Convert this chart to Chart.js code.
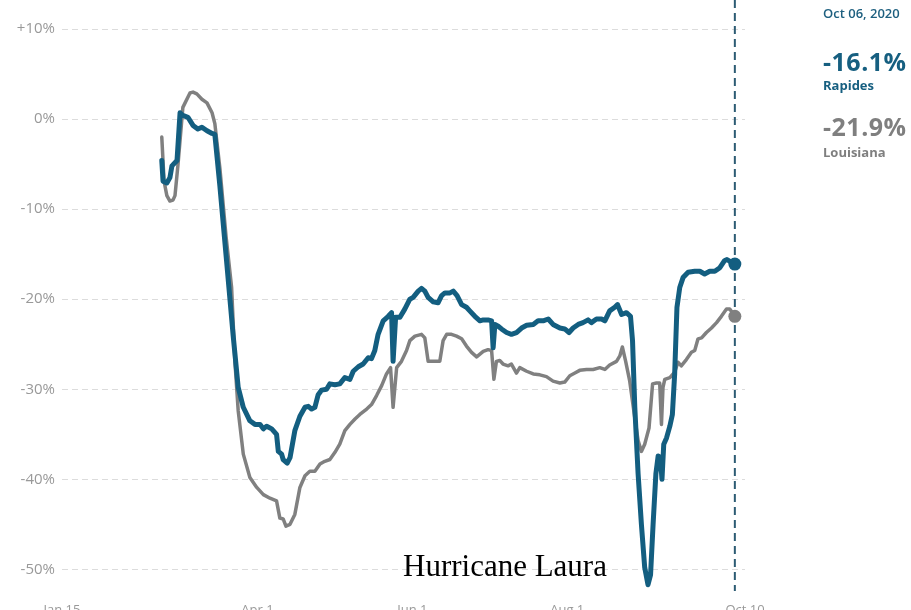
<!DOCTYPE html>
<html>
<head>
<meta charset="utf-8">
<script src="https://cdn.jsdelivr.net/npm/chart.js@4/dist/chart.umd.min.js"></script>
<style>
  html, body { margin: 0; padding: 0; background: #fff; overflow: hidden; }
  #wrap { position: relative; width: 911px; height: 630px; }
  #chart { position: absolute; left: 0; top: 0; }
  .side { position: absolute; left: 823px; font-family: "Open Sans", sans-serif; font-weight: 700; white-space: nowrap; }
  .date { top: 4px; font-size: 13px; font-weight: 600; color: #1d5f7f; }
  .big { font-size: 25px; letter-spacing: 0.5px; }
  .small { font-size: 13px; }
  .blue { color: #165f80; }
  .grey { color: #7f7f7f; }
  #laura { position: absolute; left: 403px; top: 548px; font-family: "Liberation Serif", "Times New Roman", serif; font-size: 31px; color: #000; white-space: nowrap; }
</style>
</head>
<body>
<div id="wrap">
  <canvas id="chart" width="911" height="630"></canvas>
  <div class="side date">Oct 06, 2020</div>
  <div class="side big blue" style="top:44px">-16.1%</div>
  <div class="side small blue" style="top:76px">Rapides</div>
  <div class="side big grey" style="top:109px">-21.9%</div>
  <div class="side small grey" style="top:143px">Louisiana</div>
  <div id="laura">Hurricane Laura</div>
</div>
<script>
// days counted from Jan 15, 2020
const tickDays = [0, 77, 138, 199, 269];
const tickLabels = ["Jan 15", "Apr 1", "Jun 1", "Aug 1", "Oct 10"];
const yTicks = [-50, -40, -30, -20, -10, 0, 10];
const markerDay = 265; // Oct 06

// Rapides (change from baseline, %)
const rapidesDays = [39.3, 39.8, 41.3, 42.5, 43.3, 45.3, 46.5, 47.6, 49.6, 51.6, 53.5, 55.1, 57.1, 59.1, 60.2,
  62.2, 64.8, 67.4, 69.4, 71.4, 74.0, 76.0, 78.0, 79.3, 80.6, 82.6, 84.5, 85.2, 86.5, 87.1, 88.7, 89.8,
  91.7, 93.7, 95.7, 97.0, 98.3, 99.6, 100.9, 102.2, 104.2, 105.5, 107.5, 109.4, 111.4, 113.4, 114.7,
  116.7, 118.6, 120.6, 121.9, 123.2, 124.5, 126.5, 128.5, 129.8, 130.4, 131.4, 133.1, 135.0, 137.0,
  138.3, 140.3, 141.6, 142.9, 144.2, 146.2, 148.1, 149.5, 150.8, 152.8, 154.1, 155.6, 157.4, 159.3,
  160.6, 162.6, 164.6, 165.9, 167.8, 169.2, 169.8, 170.5, 171.8, 173.1, 175.1, 177.0, 179.0, 181.0,
  183.0, 185.6, 187.5, 189.5, 191.5, 193.4, 196.1, 198.0, 199.7, 201.3, 203.3, 205.2, 207.2, 208.5,
  210.5, 212.5, 213.8, 215.7, 217.7, 218.8, 220.4, 222.3, 223.9, 224.7, 225.6, 226.9, 228.2, 229.5,
  230.8, 231.8, 232.8, 233.9, 234.8, 235.7, 236.3, 237.0, 238.1, 239.4, 240.4, 241.3, 242.2, 243.3,
  244.6, 246.6, 249.2, 251.2, 253.1, 255.1, 257.1, 259.1, 261.0, 261.9, 265];
const rapidesVals = [-4.6, -6.9, -7.1, -6.5, -5.2, -4.6, 0.7, 0.4, 0.2, -0.7, -1.1, -0.9, -1.3, -1.6, -1.7,
  -7.5, -15.7, -24, -29.8, -32, -33.5, -33.9, -33.9, -34.4, -34.1, -34.4, -35, -36.9, -37.2, -37.8, -38.2, -37.6,
  -34.6, -33, -32, -31.9, -32.2, -32, -30.6, -30.1, -30, -29.4, -29.5, -29.4, -28.7, -28.9, -28,
  -27.5, -27.2, -26.5, -26.6, -25.7, -23.9, -22.4, -21.9, -21.5, -26.9, -22.0, -22, -21.1, -20,
  -19.8, -19.1, -18.8, -19.1, -19.8, -20.3, -20.4, -19.6, -19.3, -19.3, -19.1, -19.6, -20.6, -20.9,
  -21.3, -21.9, -22.4, -22.3, -22.3, -22.4, -25.4, -22.8, -23.0, -23.3, -23.7, -23.9, -23.7, -23.2,
  -22.9, -22.8, -22.4, -22.4, -22.2, -22.8, -23.2, -23.3, -23.7, -23.2, -22.8, -22.6, -22.3, -22.6,
  -22.2, -22.2, -22.4, -21.3, -20.9, -20.6, -21.7, -21.5, -21.9, -24.6, -32, -39.4, -45, -49.8,
  -51.7, -50.6, -45, -39.4, -37.4, -37.6, -40, -36.1, -35.4, -34.1, -32.8, -28.3, -20.9, -18.7,
  -17.6, -17.0, -16.9, -16.9, -17.2, -16.9, -16.9, -16.5, -15.7, -15.6, -16.1];

// Louisiana (change from baseline, %)
const louisianaDays = [39.3, 40.2, 41.3, 42.5, 43.7, 44.5, 45.7, 47.6, 50.4, 51.6, 53.1, 55.1, 57.1, 59.1, 60.2,
  62.2, 64.6, 66.8, 68.1, 69.4, 71.4, 74.0, 76.7, 79.3, 81.9, 84.5, 85.8, 87.1, 88.2, 89.8, 91.7, 93.7,
  95.7, 97.6, 99.6, 101.6, 103.5, 105.5, 107.5, 109.4, 111.4, 113.4, 115.4, 117.3, 120.0, 121.9, 123.9,
  125.9, 127.8, 129.4, 130.4, 131.8, 133.7, 135.7, 137.0, 139.0, 141.6, 142.9, 144.2, 146.2, 148.8,
  150.1, 151.5, 153.4, 155.4, 157.4, 159.3, 161.3, 163.3, 164.6, 165.9, 167.8, 169.2, 170.1, 171.1,
  172.4, 173.7, 175.7, 177.0, 179.0, 180.3, 183.0, 185.6, 188.2, 190.8, 193.4, 196.1, 198.0, 200.0,
  202.0, 203.9, 206.6, 209.2, 211.8, 213.8, 215.7, 218.4, 219.7, 220.7, 222.0, 223.6, 225.6, 226.9,
  228.2, 229.5, 231.2, 232.6, 234.1, 235.4, 236.1, 236.7, 237.4, 239.4, 241.3, 242.6, 243.9, 245.9,
  247.9, 249.2, 250.5, 251.9, 253.8, 255.8, 257.8, 259.7, 261.7, 263.0, 265];
const louisianaVals = [-2.0, -6.9, -8.5, -9.1, -9.0, -8.5, -5, 1.3, 2.9, 3.0, 2.8, 2.2, 1.8, 0.7, -0.5,
  -5.5, -13, -18.7, -26.9, -32.4, -37.2, -39.8, -40.9, -41.7, -42.1, -42.4, -44.3, -44.4, -45.2, -45, -43.9, -40.9,
  -39.6, -39.1, -39.1, -38.3, -38, -37.8, -37, -36.1, -34.6, -33.9, -33.3, -32.8, -32.2, -31.7, -30.7,
  -29.6, -28.3, -27.6, -32, -27.6, -26.9, -25.7, -24.6, -24.1, -23.9, -24.3, -26.9, -26.9, -26.9,
  -24.6, -23.9, -23.9, -24.1, -24.4, -25.2, -25.9, -26.4, -26.1, -25.8, -25.6, -25.7, -28.9, -26.9,
  -26.8, -27.2, -27.4, -27.2, -28.2, -27.6, -28, -28.3, -28.4, -28.6, -29.1, -29.3, -29.2, -28.5,
  -28.2, -27.9, -27.8, -27.8, -27.6, -27.8, -27.3, -26.9, -26.3, -25.3, -26.9, -29.1, -33.2, -35.7,
  -36.9, -36.1, -34.3, -29.4, -29.3, -29.3, -33.9, -29.8, -28.9, -28.7, -28.1, -27.0, -27.4, -26.7,
  -25.9, -25.7, -24.4, -24.3, -23.7, -23.2, -22.6, -21.9, -21.1, -21.1, -21.9];

const toPoints = (days, vals) => days.map((d, i) => ({ x: d, y: vals[i] }));
const lastDot = size => ctx => ctx.dataIndex === ctx.dataset.data.length - 1 ? size : 0;

// dashed vertical line at the latest date
const markerLine = {
  id: "markerLine",
  beforeDatasetsDraw(chart) {
    const x = chart.scales.x.getPixelForValue(markerDay);
    const c = chart.ctx;
    c.save();
    c.strokeStyle = "#2c5b73";
    c.lineWidth = 2;
    c.setLineDash([8, 5]);
    c.beginPath();
    c.moveTo(x, 0);
    c.lineTo(x, chart.chartArea.bottom);
    c.stroke();
    c.restore();
  }
};

new Chart(document.getElementById("chart"), {
  type: "line",
  data: {
    datasets: [
      {
        label: "Rapides",
        data: toPoints(rapidesDays, rapidesVals),
        borderColor: "#135e80",
        backgroundColor: "#135e80",
        borderWidth: 5,
        pointRadius: lastDot(6.5),
        pointBorderWidth: 0,
        tension: 0,
        borderJoinStyle: "round",
        borderCapStyle: "round",
        clip: false
      },
      {
        label: "Louisiana",
        data: toPoints(louisianaDays, louisianaVals),
        borderColor: "#808080",
        backgroundColor: "#808080",
        borderWidth: 3.5,
        pointRadius: lastDot(6.5),
        pointBorderWidth: 0,
        tension: 0,
        borderJoinStyle: "round",
        borderCapStyle: "round",
        clip: false
      }
    ]
  },
  options: {
    responsive: false,
    animation: false,
    devicePixelRatio: 1,
    layout: { padding: { top: 0, right: 166, left: 0, bottom: 0 } },
    plugins: { legend: { display: false }, tooltip: { enabled: false } },
    scales: {
      x: {
        type: "linear",
        min: 0,
        max: 269,
        afterBuildTicks: s => { s.ticks = tickDays.map(v => ({ value: v })); },
        afterFit: s => { s.height = 39; },
        grid: { display: false, drawTicks: false },
        border: { display: false },
        ticks: {
          autoSkip: false,
          maxRotation: 0,
          padding: 11,
          color: "#999",
          font: { family: "Open Sans", size: 13 },
          callback: v => tickLabels[tickDays.indexOf(v)]
        }
      },
      y: {
        min: -52.4,
        max: 12.5,
        afterBuildTicks: s => { s.ticks = yTicks.map(v => ({ value: v })); },
        afterFit: s => { s.width = 62; s.paddingTop = 0; s.paddingBottom = 0; },
        grid: { color: "#dcdcdc", lineWidth: 1, drawTicks: false },
        border: { display: false, dash: [6, 4] },
        ticks: {
          padding: 7,
          color: "#999",
          font: { family: "Open Sans", size: 15 },
          callback: v => (v > 0 ? "+" : "") + v + "%"
        }
      }
    }
  },
  plugins: [markerLine]
});
</script>
</body>
</html>
